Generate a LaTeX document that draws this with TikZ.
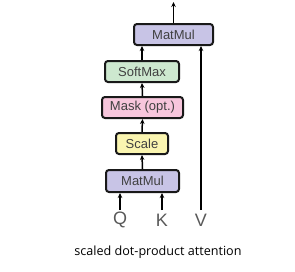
\documentclass[tikz,border=0pt]{standalone}
\usepackage{fontspec}
\setmainfont{Liberation Sans}
\newfontfamily\capfont{Open Sans}
\usetikzlibrary{arrows.meta}
\definecolor{mmfill}{RGB}{200,196,230}
\definecolor{smfill}{RGB}{205,232,207}
\definecolor{mkfill}{RGB}{247,198,220}
\definecolor{scfill}{RGB}{250,245,176}
\definecolor{edgecol}{RGB}{25,25,25}
\tikzset{
  opbox/.style={draw=edgecol, line width=2pt, rounded corners=3pt, inner sep=0pt,
    minimum height=21pt, font=\fontsize{13}{15}\selectfont, text=black!75},
  inlabel/.style={inner sep=0pt, font=\fontsize{18}{20}\selectfont, text=black!65},
  flow/.style={line width=1.5pt, draw=black, -{Stealth[length=5pt,width=4.5pt]}}
}
\begin{document}
\begin{tikzpicture}[x=1pt,y=-1pt]
\useasboundingbox (0,0) rectangle (295,271);
\node[opbox, fill=mmfill, minimum width=79pt] (mm2) at (173.5,34.5) {MatMul};
\node[opbox, fill=smfill, minimum width=74pt] (sm) at (142,71.5) {SoftMax};
\node[opbox, fill=mkfill, minimum width=81pt] (mk) at (142.5,107.5) {Mask (opt.)};
\node[opbox, fill=scfill, minimum width=52pt] (sc) at (142,143.5) {Scale};
\node[opbox, fill=mmfill, minimum width=73pt, minimum height=22pt] (mm1) at (142.5,181) {MatMul};
\node[inlabel] (q) at (120,220) {Q};
\node[inlabel] (k) at (162,220) {K};
\node[inlabel] (v) at (201,220) {V};
\coordinate (out) at (173.5,2);
\node[font=\capfont\fontsize{12.6}{15}\selectfont, inner sep=0pt] (cap) at (158,252) {scaled dot-product attention};
\draw[flow] (q.north |- 0,210) -- (q.north |- mm1.south);
\draw[flow] (k.north |- 0,210) -- (k.north |- mm1.south);
\draw[flow] (v.north |- 0,210) -- (v.north |- mm2.south);
\draw[flow] (mm1.north) -- (sc.south);
\draw[flow] (sc.north) -- (mk.south);
\draw[flow] (mk.north) -- (sm.south);
\draw[flow] (sm.north) -- (sm.north |- mm2.south);
\draw[flow] (mm2.north) -- (out);
\end{tikzpicture}
\end{document}
